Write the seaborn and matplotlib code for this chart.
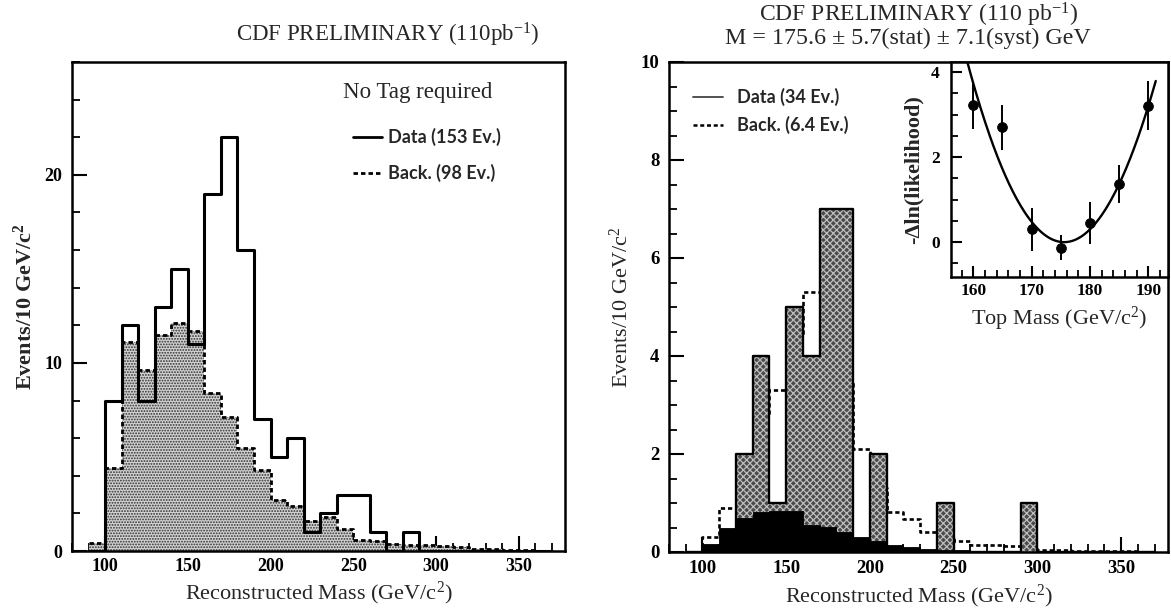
import numpy as np
import matplotlib
matplotlib.use("Agg")
import matplotlib.pyplot as plt
from matplotlib.ticker import MultipleLocator
import seaborn as sns

# ---------------- data ----------------
bin_edges = list(range(90, 380, 10))          # 10 GeV bins, 90 .. 370
left_data = [0, 8, 12, 8, 13, 15, 11, 19, 22, 16, 7, 5, 6, 1, 2, 3, 3, 1, 0, 1,
             0, 0, 0, 0, 0, 0, 0, 0]
left_back = [0.4, 4.4, 11.1, 9.6, 11.5, 12.1, 11.7, 8.4, 7.1, 5.5, 4.3, 2.7, 2.4,
             1.6, 1.8, 1.15, 0.6, 0.55, 0.35, 0.3, 0.3, 0.25, 0.2, 0.1, 0.1, 0.05,
             0.05, 0.0]
right_data = [0, 0, 0, 2, 4, 1, 5, 4, 7, 7, 0, 2, 0, 0, 0, 1, 0, 0, 0, 0,
              1, 0, 0, 0, 0, 0, 0, 0]
right_expect = [0, 0.3, 0.9, 1.9, 2.8, 3.3, 4.4, 5.3, 5.7, 3.5, 2.1, 1.3, 0.82,
                0.67, 0.4, 0.3, 0.23, 0.14, 0.14, 0.12, 0.1, 0.05, 0.04, 0.03,
                0.03, 0.02, 0.02, 0.01]
right_back = [0, 0.17, 0.48, 0.7, 0.82, 0.84, 0.84, 0.55, 0.5, 0.4, 0.3, 0.22,
              0.15, 0.1, 0.07, 0.05, 0.04, 0.03, 0.02, 0.02, 0.01, 0.01, 0.01,
              0, 0, 0, 0, 0]
inset_mass = [160, 165, 170, 175, 180, 185, 190]
inset_dll = [3.22, 2.70, 0.30, -0.13, 0.45, 1.36, 3.21]
inset_err = [0.55, 0.53, 0.50, 0.30, 0.50, 0.45, 0.58]
fit_mass = 175.6      # fitted top mass (GeV)
fit_stat = 5.7        # statistical error (GeV) -> parabola width
fit_range = (158.8, 191.3)

left_title = "CDF PRELIMINARY (110pb$^{-1}$)"
right_title1 = "CDF PRELIMINARY (110 pb$^{-1}$)"
right_title2 = "M = 175.6 ± 5.7(stat) ± 7.1(syst) GeV"

# ---------------- style ----------------
sns.set_style("ticks")
plt.rcParams["font.family"] = ["Liberation Serif", "DejaVu Serif"]
plt.rcParams["mathtext.fontset"] = "custom"
plt.rcParams["mathtext.rm"] = "Liberation Serif"
plt.rcParams["mathtext.it"] = "Liberation Serif:italic"
plt.rcParams["mathtext.bf"] = "Liberation Serif:bold"
plt.rcParams["hatch.linewidth"] = 0.9

SANS = ["Lato", "DejaVu Sans"]
DASH = (0, (1.6, 1.1))

edges = np.array(bin_edges, dtype=float)
centers = (edges[:-1] + edges[1:]) / 2

W, H = 1171, 614
fig = plt.figure(figsize=(W / 100, H / 100), dpi=100)
fig.patch.set_facecolor("white")
axL = fig.add_axes([72 / W, 1 - 551 / H, (565 - 72) / W, (551 - 62) / H])
axR = fig.add_axes([669 / W, 1 - 552 / H, (1168 - 669) / W, (552 - 62) / H])
axI = fig.add_axes([951 / W, 1 - 277 / H, (1168 - 951) / W, (277 - 62) / H])


def new_artists(ax, fn):
    before = set(ax.get_children())
    fn()
    return [a for a in ax.get_children() if a not in before]


def hist(ax, weights, **kw):
    return new_artists(ax, lambda: sns.histplot(x=list(centers), weights=list(weights),
                                                bins=list(bin_edges), ax=ax, **kw))


# ---------------- left panel ----------------
for a in hist(axL, left_back, element="step", fill=True, facecolor="#d2d2d2",
              edgecolor="#303030", hatch="......", linewidth=0, alpha=1):
    a.set_zorder(1)
for a in hist(axL, left_back, element="step", fill=False, color="black",
              linewidth=2.0, linestyle=DASH):
    a.set_zorder(2)
for a in hist(axL, left_data, element="step", fill=False, color="black",
              linewidth=2.2):
    a.set_zorder(2.5)

# ---------------- right panel ----------------
for a in hist(axR, right_expect, element="step", fill=False, color="black",
              linewidth=1.9, linestyle=DASH):
    a.set_zorder(0.8)
for a in hist(axR, right_data, element="step", fill=True, facecolor="#4a4a4a",
              edgecolor="#bdbdbd", hatch="xxxxx", linewidth=0, alpha=1):
    a.set_zorder(1.2)
for a in hist(axR, right_back, element="step", fill=True, facecolor="black",
              edgecolor="black", linewidth=0.6, alpha=1):
    a.set_zorder(1.6)
for a in hist(axR, right_data, element="step", fill=False, color="black",
              linewidth=1.7):
    a.set_zorder(2.0)

# ---------------- inset ----------------
m_curve = np.linspace(fit_range[0], fit_range[1], 200)
dll_curve = (m_curve - fit_mass) ** 2 / (2 * fit_stat ** 2)
axI.set_facecolor("white")
sns.lineplot(x=m_curve, y=dll_curve, ax=axI, color="black", linewidth=1.7)
axI.errorbar(inset_mass, inset_dll, yerr=inset_err, fmt="none", ecolor="black",
             elinewidth=1.4, capsize=0)
sns.scatterplot(x=inset_mass, y=inset_dll, ax=axI, color="black", s=50,
                edgecolor="black", zorder=4)

# ---------------- axes formatting ----------------
for ax in (axL, axR):
    ax.set_xlim(80, 378)
    ax.xaxis.set_major_locator(MultipleLocator(50))
    ax.xaxis.set_minor_locator(MultipleLocator(10))
axL.set_ylim(0, 26)
axL.yaxis.set_major_locator(MultipleLocator(10))
axL.yaxis.set_minor_locator(MultipleLocator(2))
axR.set_ylim(0, 10)
axR.yaxis.set_major_locator(MultipleLocator(2))
axR.yaxis.set_minor_locator(MultipleLocator(0.5))
axI.set_xlim(156.2, 193.4)
axI.set_ylim(-0.82, 4.24)
axI.xaxis.set_major_locator(MultipleLocator(10))
axI.xaxis.set_minor_locator(MultipleLocator(2))
axI.yaxis.set_major_locator(MultipleLocator(2))
axI.yaxis.set_minor_locator(MultipleLocator(0.5))

for ax, lsize, xpad, ypad in ((axL, 13, 5, 7), (axR, 13.5, 6, 7), (axI, 12.5, 4.5, 8)):
    for s in ax.spines.values():
        s.set_visible(True)
        s.set_linewidth(1.8)
        s.set_color("black")
    ax.tick_params(which="both", direction="in", top=False, right=False,
                   colors="black")
    ax.tick_params(which="major", length=11, width=1.5, labelsize=lsize)
    ax.tick_params(which="minor", length=6, width=1.3)
    ax.tick_params(axis="x", which="major", pad=xpad)
    ax.tick_params(axis="y", which="major", pad=ypad)
    for lab in ax.get_xticklabels() + ax.get_yticklabels():
        lab.set_fontweight("bold")
    ax.grid(False)

axI.tick_params(which="major", length=8)
axI.tick_params(which="minor", length=5)

# labels
axL.set_xlabel("Reconstructed Mass (GeV/c$^2$)", fontsize=16)
axL.set_ylabel("Events/10 GeV/c$^\\mathbf{2}$", fontsize=16, fontweight="bold")
axR.set_xlabel("Reconstructed Mass (GeV/c$^2$)", fontsize=16)
axR.set_ylabel("Events/10 GeV/c$^2$", fontsize=16)
axI.set_xlabel("Top Mass (GeV/c$^2$)", fontsize=16)
axI.set_ylabel("-\u0394ln(likelihood)", fontsize=16, fontweight="bold")
axL.xaxis.set_label_coords(0.5, -0.058)
axR.xaxis.set_label_coords(0.5, -0.062)
axL.yaxis.set_label_coords(-0.071, 0.5)
axR.yaxis.set_label_coords(-0.072, 0.5)
axI.xaxis.set_label_coords(0.5, -0.13)
axI.yaxis.set_label_coords(-0.128, 0.5)

# titles
fig.text(387.5 / W, 1 - 35 / H, left_title, ha="center", va="center", fontsize=16.5)
fig.text(919 / W, 1 - 15 / H, right_title1, ha="center", va="center", fontsize=17)
fig.text(908 / W, 1 - 38 / H, right_title2, ha="center", va="center", fontsize=17.3)

# ---------------- legends (hand placed, as in the original) ----------------
axL.text(0.550, 0.937, "No Tag required", transform=axL.transAxes, ha="left",
         va="center", fontsize=16.5)
axL.plot([0.570, 0.629], [0.847, 0.847], transform=axL.transAxes, color="black",
         linewidth=2.0, clip_on=False)
axL.text(0.641, 0.847, "Data (153 Ev.)", transform=axL.transAxes, ha="left",
         va="center", fontsize=13, fontweight="bold", family=SANS)
axL.plot([0.570, 0.629], [0.773, 0.773], transform=axL.transAxes, color="black",
         linewidth=2.0, linestyle=DASH, clip_on=False)
axL.text(0.641, 0.773, "Back. (98 Ev.)", transform=axL.transAxes, ha="left",
         va="center", fontsize=13, fontweight="bold", family=SANS)

axR.plot([0.048, 0.108], [0.929, 0.929], transform=axR.transAxes, color="#444444",
         linewidth=1.3, clip_on=False)
axR.text(0.136, 0.929, "Data (34 Ev.)", transform=axR.transAxes, ha="left",
         va="center", fontsize=13, fontweight="bold", family=SANS)
axR.plot([0.048, 0.108], [0.871, 0.871], transform=axR.transAxes, color="black",
         linewidth=1.8, linestyle=DASH, clip_on=False)
axR.text(0.136, 0.871, "Back. (6.4 Ev.)", transform=axR.transAxes, ha="left",
         va="center", fontsize=13, fontweight="bold", family=SANS)

fig.savefig("out.png", dpi=100, facecolor="white")
